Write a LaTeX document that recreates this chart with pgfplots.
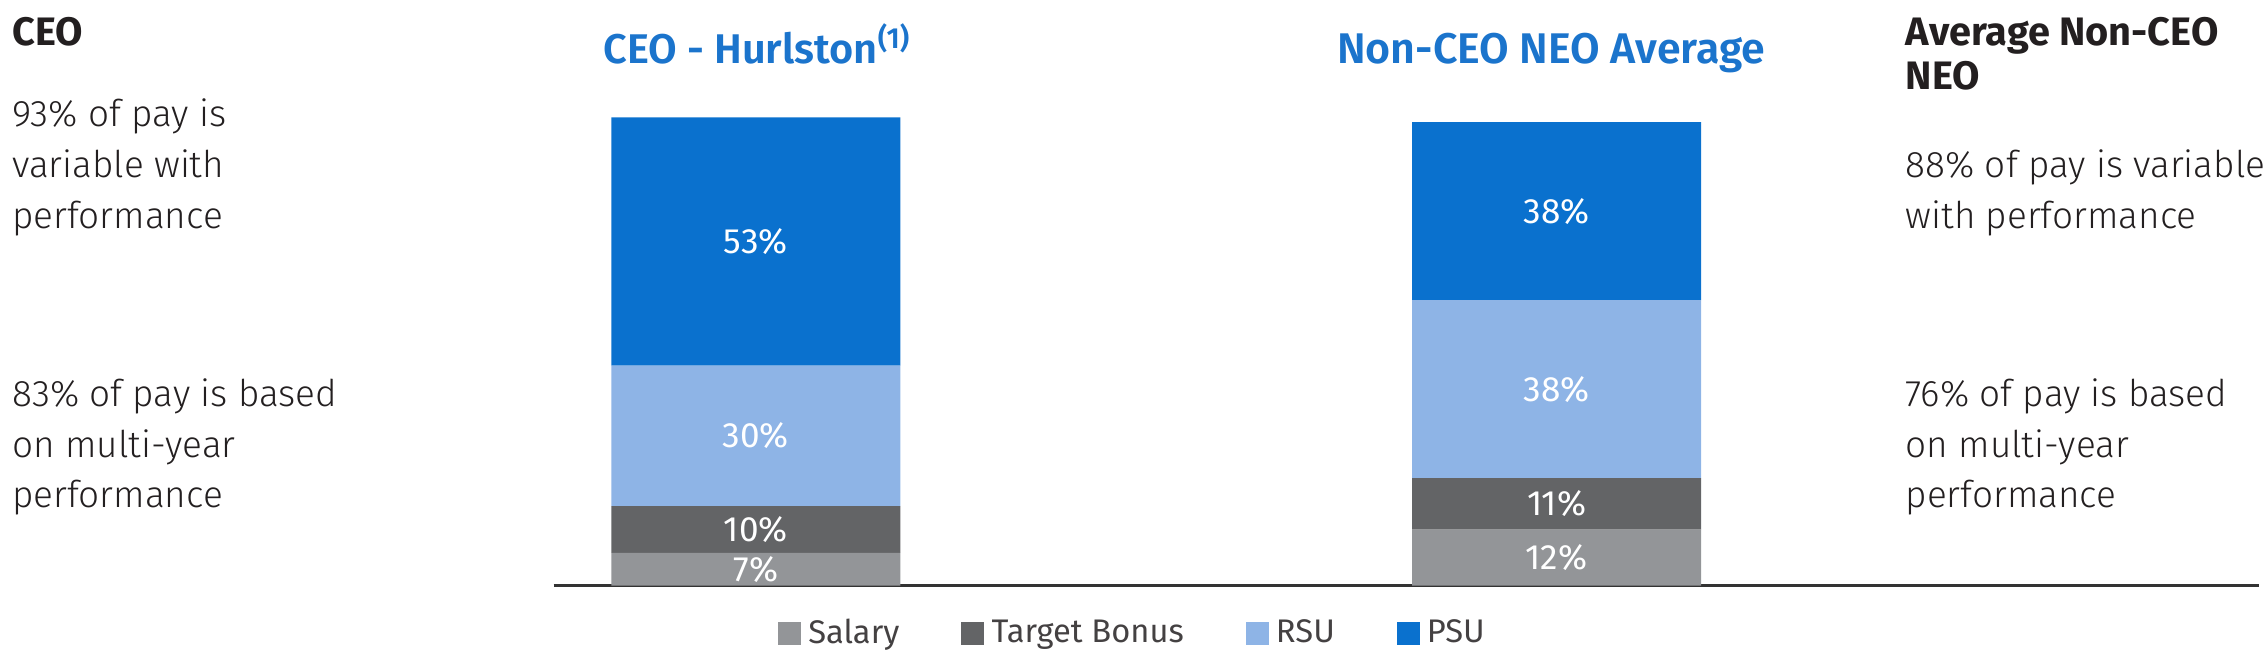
\documentclass[border=0pt]{standalone}
\usepackage{fontspec}
\setmainfont{Fira Sans}[UprightFont={* Light}, BoldFont={* Bold}]
\newfontfamily\regfont{Fira Sans}
\newfontfamily\semifont{Fira Sans SemiBold}
\usepackage{pgfplots}
\pgfplotsset{compat=1.18}

\definecolor{salary}{HTML}{939598}
\definecolor{bonus}{HTML}{636466}
\definecolor{rsu}{HTML}{8EB4E6}
\definecolor{psu}{HTML}{0A71CE}
\definecolor{titleblue}{HTML}{1B74CC}
\definecolor{txt}{HTML}{231F20}

\pgfplotsset{
  sq/.style={draw=none, fill=#1,
    legend image code/.code={\fill[#1] (0cm,-0.115cm) rectangle (0.23cm,0.115cm);}},
}

\begin{document}
\begin{tikzpicture}[x=1cm,y=1cm]
\useasboundingbox (0,0) rectangle (22.66,6.58);

\begin{axis}[
  at={(5.535cm,0.7226cm)}, anchor=south west,
  scale only axis, width=17.053cm, height=4.683cm,
  xmin=-0.2527, xmax=1.877, ymin=0, ymax=100,
  ybar stacked, bar width=2.89cm,
  axis x line=bottom, axis y line=none,
  axis line style={-, draw=black!80, line width=0.85pt},
  xtick=\empty, ytick=\empty,
  clip=false,
  point meta=explicit symbolic,
  nodes near coords={\pgfplotspointmeta\%},
  every node near coord/.append style={white, font=\regfont\fontsize{10}{12}\selectfont,
    anchor=center},
  legend style={at={(0.341,-0.102)}, anchor=center, draw=none, fill=none,
    font=\regfont\fontsize{9.3}{11}\selectfont, text=txt!85,
    legend columns=4, /tikz/every even column/.append style={column sep=0.55cm}},
]
\addplot[sq=salary] coordinates {(0,7) [7] (1,12) [12]};
\addplot[sq=bonus]  coordinates {(0,10) [10] (1,11) [11]};
\addplot[sq=rsu]    coordinates {(0,30) [30] (1,38) [38]};
\addplot[sq=psu]    coordinates {(0,53) [53] (1,38) [38]};
\legend{Salary, Target Bonus, RSU, PSU}
\end{axis}

% bar titles
\node[anchor=base, inner sep=0, text=titleblue, font=\semifont\fontsize{11.8}{14}\selectfont]
  at (7.573,5.94) {CEO - Hurlston\textsuperscript{(1)}};
\node[anchor=base, inner sep=0, text=titleblue, font=\semifont\fontsize{12.2}{14}\selectfont]
  at (15.514,5.94) {Non-CEO NEO Average};

% left column
\begin{scope}[every node/.style={anchor=base west, inner sep=0, text=txt,
    font=\fontsize{10.5}{12}\selectfont}]
\node[font=\bfseries\fontsize{11.3}{13}\selectfont] at (0.116,6.128) {CEO};
\node at (0.116,5.318) {93\% of pay is};
\node at (0.116,4.805) {variable with};
\node at (0.116,4.292) {performance};
\node at (0.116,2.515) {83\% of pay is based};
\node at (0.116,2.009) {on multi-year};
\node at (0.116,1.503) {performance};
% right column
\node[font=\bfseries\fontsize{11.3}{13}\selectfont] at (19.05,6.128) {Average Non-CEO};
\node[font=\bfseries\fontsize{11.3}{13}\selectfont] at (19.05,5.68) {NEO};
\node at (19.05,4.805) {88\% of pay is variable};
\node at (19.05,4.292) {with performance};
\node at (19.05,2.515) {76\% of pay is based};
\node at (19.05,2.009) {on multi-year};
\node at (19.05,1.503) {performance};
\end{scope}
\end{tikzpicture}
\end{document}
